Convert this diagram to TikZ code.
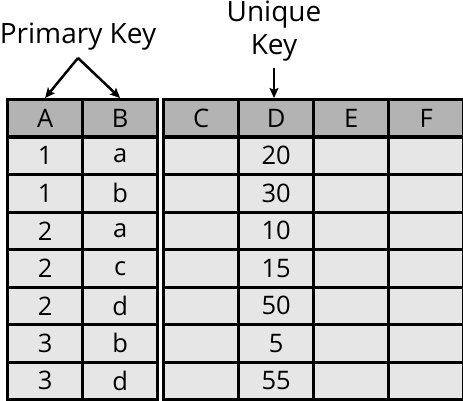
\documentclass[tikz,border=0pt]{standalone}
\usepackage{fontspec}
\setmainfont{Open Sans}
\usetikzlibrary{arrows.meta}
\definecolor{headgray}{HTML}{B3B3B3}
\definecolor{bodygray}{HTML}{E6E6E6}
\begin{document}
\begin{tikzpicture}[x=1pt,y=-1pt,
  cell/.style={draw=black,line width=3.2pt,minimum width=75pt,minimum height=37.5pt,inner sep=0pt,anchor=north west,font=\fontsize{25.5}{30}\selectfont},
  headcell/.style={cell,fill=headgray},
  bodycell/.style={cell,fill=bodygray},
  lbl/.style={font=\fontsize{28}{33}\selectfont,inner sep=0pt,align=center},
  keyarrow/.style={line width=2.5pt,-{Stealth[length=10pt,width=9pt,inset=2pt]}}]
\useasboundingbox (0,0) rectangle (463,401);
% headers
\foreach \n/\x/\t in {a/6/A,b/81/B,c/162/C,d/237/D,e/312/E,f/387/F}
  \node[headcell] (\n0) at (\x,98) {\t};
% body
\foreach \r/\va/\vb/\vd in {1/1/a/20,2/1/b/30,3/2/a/10,4/2/c/15,5/2/d/50,6/3/b/5,7/3/d/55}{
  \node[bodycell] (a\r) at (6,98+37.5*\r) {\va};
  \node[bodycell] (b\r) at (81,98+37.5*\r) {\vb};
  \node[bodycell] (c\r) at (162,98+37.5*\r) {};
  \node[bodycell] (d\r) at (237,98+37.5*\r) {\vd};
  \node[bodycell] (e\r) at (312,98+37.5*\r) {};
  \node[bodycell] (f\r) at (387,98+37.5*\r) {};
}
% labels
\node[lbl,anchor=base] (pk) at (78,44) {Primary Key};
\node[lbl,anchor=base] (uk) at (274,55) {Unique\\Key};
\coordinate (apex) at (78,58);
\draw[keyarrow] (apex) -- (a0.north);
\draw[keyarrow] (apex) -- (b0.north);
\coordinate (ukend) at (274,68);
\draw[keyarrow] (ukend) -- (ukend |- d0.north);
\end{tikzpicture}
\end{document}
